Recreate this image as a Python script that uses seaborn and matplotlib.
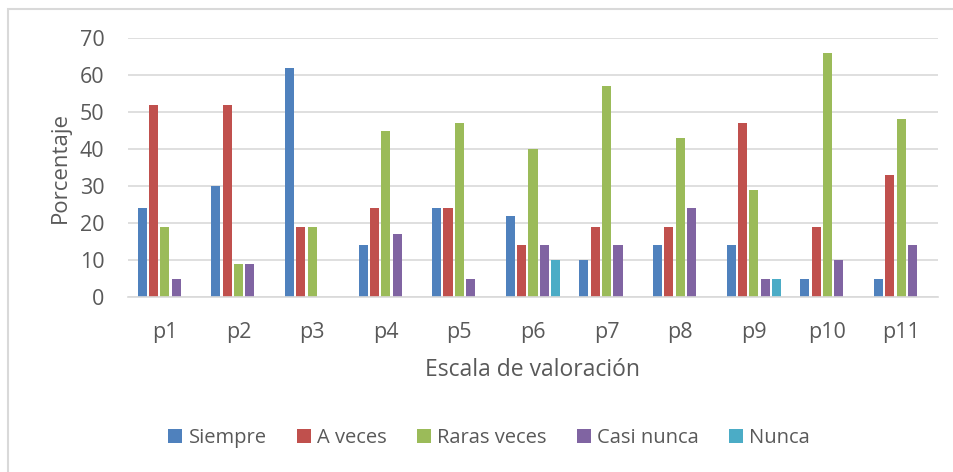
import matplotlib
matplotlib.use("Agg")
import matplotlib.pyplot as plt
import seaborn as sns
import pandas as pd
from matplotlib.patches import Rectangle

categories = ["p1", "p2", "p3", "p4", "p5", "p6", "p7", "p8", "p9", "p10", "p11"]
series_names = ["Siempre", "A veces", "Raras veces", "Casi nunca", "Nunca"]
siempre = [24, 30, 62, 14, 24, 22, 10, 14, 14, 5, 5]
a_veces = [52, 52, 19, 24, 24, 14, 19, 19, 47, 19, 33]
raras_veces = [19, 9, 19, 45, 47, 40, 57, 43, 29, 66, 48]
casi_nunca = [5, 9, 0, 17, 5, 14, 14, 24, 5, 10, 14]
nunca = [0, 0, 0, 0, 0, 10, 0, 0, 5, 0, 0]
y_ticks = [0, 10, 20, 30, 40, 50, 60, 70]

colors = ["#4F81BD", "#C0504D", "#9BBB59", "#8064A2", "#4BACC6"]
text_color = "#595959"
grid_color = "#D9D9D9"

rows = []
for name, vals in zip(series_names, [siempre, a_veces, raras_veces, casi_nunca, nunca]):
    for c, v in zip(categories, vals):
        rows.append({"cat": c, "serie": name, "val": v})
df = pd.DataFrame(rows)

sns.set_theme(style="white")
plt.rcParams["font.family"] = ["Open Sans", "DejaVu Sans"]

fig = plt.figure(figsize=(9.54, 4.72), dpi=100)
ax = fig.add_axes([128 / 954, 1 - 297 / 472, 810 / 954, 259 / 472])

sns.barplot(data=df, x="cat", y="val", hue="serie", hue_order=series_names,
            order=categories, palette=colors, width=0.77, gap=0.2,
            saturation=1, ax=ax, legend=True, edgecolor="none")

ax.set_ylim(0, 70)
ax.set_xlim(-0.5, len(categories) - 0.5)
ax.set_yticks(y_ticks)
ax.yaxis.grid(True, color=grid_color, linewidth=1.2)
ax.set_axisbelow(True)
for s in ["top", "right", "left"]:
    ax.spines[s].set_visible(False)
ax.spines["bottom"].set_color(grid_color)
ax.spines["bottom"].set_linewidth(1.2)
ax.tick_params(axis="both", length=0, colors=text_color, labelsize=15.5)
ax.tick_params(axis="x", pad=18)
ax.tick_params(axis="y", pad=17)
ax.set_xlabel("Escala de valoración", fontsize=16.5, color=text_color, labelpad=11)
ax.set_ylabel("Porcentaje", fontsize=16, color=text_color, labelpad=6)

leg = ax.legend(loc="center", bbox_to_anchor=(489 / 954, 1 - 438 / 472),
                bbox_transform=fig.transFigure, ncol=5, frameon=False,
                fontsize=14.5, handlelength=0.7, handleheight=0.7,
                handletextpad=0.3, columnspacing=1.5)
for t in leg.get_texts():
    t.set_color(text_color)

fig.patches.append(Rectangle((8 / 954, -0.01), 1.0, 1 - 9 / 472 + 0.01,
                             transform=fig.transFigure, fill=False,
                             edgecolor=grid_color, linewidth=1.5))

fig.savefig("out.png", dpi=100)
